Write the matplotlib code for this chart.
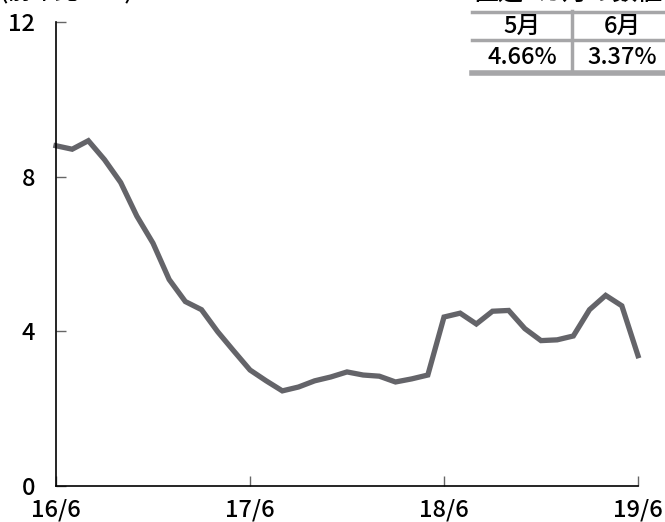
import matplotlib
matplotlib.use('Agg')
import matplotlib.pyplot as plt
from matplotlib.lines import Line2D

plt.rcParams['font.family'] = ['Noto Sans CJK JP', 'DejaVu Sans']

# 前年比（%）、16/6〜19/6 の月次
months = ['16/6', '16/7', '16/8', '16/9', '16/10', '16/11', '16/12',
          '17/1', '17/2', '17/3', '17/4', '17/5', '17/6', '17/7', '17/8',
          '17/9', '17/10', '17/11', '17/12', '18/1', '18/2', '18/3', '18/4',
          '18/5', '18/6', '18/7', '18/8', '18/9', '18/10', '18/11', '18/12',
          '19/1', '19/2', '19/3', '19/4', '19/5', '19/6']
yoy = [8.80, 8.71, 8.93, 8.44, 7.85, 6.98, 6.28, 5.34, 4.77, 4.56, 3.99,
       3.49, 3.00, 2.72, 2.46, 2.56, 2.72, 2.82, 2.95, 2.87, 2.84, 2.69,
       2.77, 2.87, 4.37, 4.47, 4.19, 4.52, 4.54, 4.07, 3.76, 3.78, 3.88,
       4.56, 4.93, 4.66, 3.37]
tick_months = ['16/6', '17/6', '18/6', '19/6']
y_ticks = [0, 4, 8, 12]

W, H = 665, 522
fig = plt.figure(figsize=(W / 100, H / 100), dpi=100)
ax = fig.add_axes([56 / W, 1 - 486 / H, (638 - 56) / W, (486 - 22) / H])

x = list(range(len(months)))
ax.plot(x, yoy, color='#646469', lw=3.8, solid_joinstyle='miter', clip_on=False)

ax.set_xlim(0, len(months) - 1)
ax.set_ylim(0, 12)
ax.set_xticks([months.index(m) for m in tick_months])
ax.set_xticklabels(tick_months)
ax.set_yticks(y_ticks)
ax.set_yticklabels([str(v) for v in y_ticks])
ax.tick_params(axis='both', direction='in', length=7, width=1, color='#666666',
               labelsize=17)
ax.tick_params(axis='y', pad=15)
ax.tick_params(axis='x', pad=9)
for lab in ax.get_xticklabels() + ax.get_yticklabels():
    lab.set_fontweight('medium')
for s in ['top', 'right']:
    ax.spines[s].set_visible(False)
for s in ['left', 'bottom']:
    ax.spines[s].set_linewidth(1.2)

# 単位（上端で切れている）
fig.text(0, 1 + 1 / H, '(前年比・%)', fontsize=17, fontweight='medium',
         ha='left', va='baseline')

# 直近2カ月の数値の表
def fx(px):
    return px / W

def fy(py):
    return 1 - py / H

gray = '#a6a6a8'
fig.text(fx(568), fy(0), '直近2カ月の数値', fontsize=18, fontweight='medium',
         ha='center', va='baseline')
fig.add_artist(Line2D([fx(472), fx(665)], [fy(11.5), fy(11.5)], color=gray, lw=2.5))
fig.add_artist(Line2D([fx(472), fx(665)], [fy(40), fy(40)], color=gray, lw=2.5))
fig.add_artist(Line2D([fx(472), fx(665)], [fy(72.5), fy(72.5)], color=gray, lw=4))
fig.add_artist(Line2D([fx(571.5), fx(571.5)], [fy(11), fy(71)], color=gray, lw=2.5))

last_two = months[-2:]
for cx, m, v in zip([522, 622], last_two, yoy[-2:]):
    fig.text(fx(cx), fy(26), str(int(m.split('/')[1])) + '月', fontsize=17,
             fontweight='medium', ha='center', va='center')
    fig.text(fx(cx), fy(57), '{:.2f}%'.format(v), fontsize=17,
             fontweight='medium', ha='center', va='center')

fig.savefig('out.png', dpi=100)
